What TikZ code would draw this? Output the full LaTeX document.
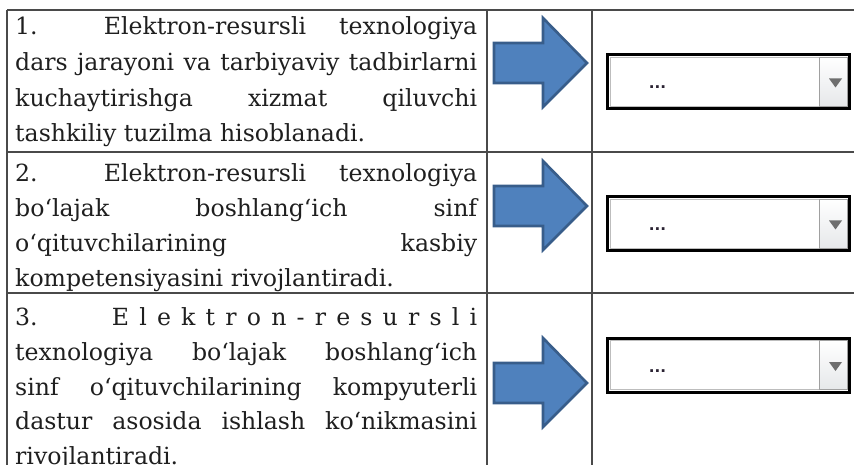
\documentclass[tikz,border=0pt]{standalone}
\usepackage{fontspec}
\setmainfont{DejaVu Serif}
\newfontfamily\dotfont{Liberation Sans}
\definecolor{gridgray}{HTML}{4A4A4A}
\definecolor{arrowblue}{HTML}{4F81BD}
\definecolor{arrowedge}{HTML}{385D8A}
\definecolor{btngray}{HTML}{E6E8EA}
\definecolor{btnedge}{HTML}{A0A0A0}
\definecolor{trigray}{HTML}{6E6E6E}
\definecolor{dotcol}{HTML}{2A2232}
\newcommand\jline[1]{\makebox[462pt][s]{#1}}
\begin{document}
\begin{tikzpicture}[x=1pt,y=-1pt,
  gridline/.style={draw=gridgray,line width=1.4pt},
  txt/.style={anchor=base west,inner sep=0pt,font=\fontsize{23.6}{30}\selectfont,text=black!88},
  bluearrow/.style={fill=arrowblue,draw=arrowedge,line width=2.6pt,line join=miter},
  ddframe/.style={draw=black,line width=3pt,fill=white},
  ddfield/.style={draw=btnedge!70,line width=0.8pt,fill=white},
  ddbutton/.style={draw=btnedge,line width=0.8pt,top color=white,bottom color=btngray},
  ddtri/.style={fill=trigray,draw=none},
  dots/.style={inner sep=0pt,anchor=base,text=dotcol,font=\dotfont\bfseries\fontsize{19}{19}\selectfont}]
\useasboundingbox (0,0) rectangle (854,465);
% table grid
\coordinate (tl) at (7,10);
\coordinate (tr) at (854,10);
\coordinate (r1l) at (7,152);
\coordinate (r1r) at (854,152);
\coordinate (r2l) at (7,293);
\coordinate (r2r) at (854,293);
\coordinate (v1t) at (487,10);
\coordinate (v1b) at (487,465);
\coordinate (v2t) at (592,10);
\coordinate (v2b) at (592,465);
\coordinate (bl) at (7,465);
\draw[gridline] (tl) -- (tr);
\draw[gridline] (r1l) -- (r1r);
\draw[gridline] (r2l) -- (r2r);
\draw[gridline] (tl) -- (bl);
\draw[gridline] (v1t) -- (v1b);
\draw[gridline] (v2t) -- (v2b);
% row 1 text
\node[txt] (a1) at (15,35) {\jline{1.\ \ Elektron-resursli texnologiya}};
\node[txt] (a2) at (15,71) {\jline{dars jarayoni va tarbiyaviy tadbirlarni}};
\node[txt] (a3) at (15,106.5) {\jline{kuchaytirishga xizmat qiluvchi}};
\node[txt] (a4) at (15,142) {tashkiliy tuzilma hisoblanadi.};
% row 2 text
\node[txt] (b1) at (15,181.5) {\jline{2.\ \ Elektron-resursli texnologiya}};
\node[txt] (b2) at (15,216.5) {\jline{bo‘lajak boshlang‘ich sinf}};
\node[txt] (b3) at (15,251.5) {\jline{o‘qituvchilarining kasbiy}};
\node[txt] (b4) at (15,286.5) {kompetensiyasini rivojlantiradi.};
% row 3 text
\node[txt] (c1) at (15,325) {\jline{3.\hspace{64pt}\hfill E\hfill l\hfill e\hfill k\hfill t\hfill r\hfill o\hfill n\hfill -\hfill r\hfill e\hfill s\hfill u\hfill r\hfill s\hfill l\hfill i}};
\node[txt] (c2) at (15,360) {\jline{texnologiya bo‘lajak boshlang‘ich}};
\node[txt] (c3) at (15,395) {\jline{sinf o‘qituvchilarining kompyuterli}};
\node[txt] (c4) at (15,429) {\jline{dastur asosida ishlash ko‘nikmasini}};
\node[txt] (c5) at (15,464) {rivojlantiradi.};
% arrows and dropdowns
\foreach \i/\t/\c in {1/63/81.5, 2/206/223.5, 3/383/365}{
  \draw[bluearrow] (494,\t-20) -- (543,\t-20) -- (543,\t-45) -- (587,\t) -- (543,\t+44) -- (543,\t+20) -- (494,\t+20) -- cycle;
  \draw[ddframe] (607.5,\c-27) rectangle (849.5,\c+27);
  \draw[ddfield] (610,\c-24.5) rectangle (819,\c+24.5);
  \draw[ddbutton] (819,\c-24.5) rectangle (847.5,\c+24.5);
  \fill[ddtri] (829,\c-3) -- (842,\c-3) -- (835.5,\c+6) -- cycle;
  \node[dots] (dots\i) at (657.5,\c+7) {.\hspace{0.5pt}.\hspace{0.5pt}.};
}
\end{tikzpicture}
\end{document}
